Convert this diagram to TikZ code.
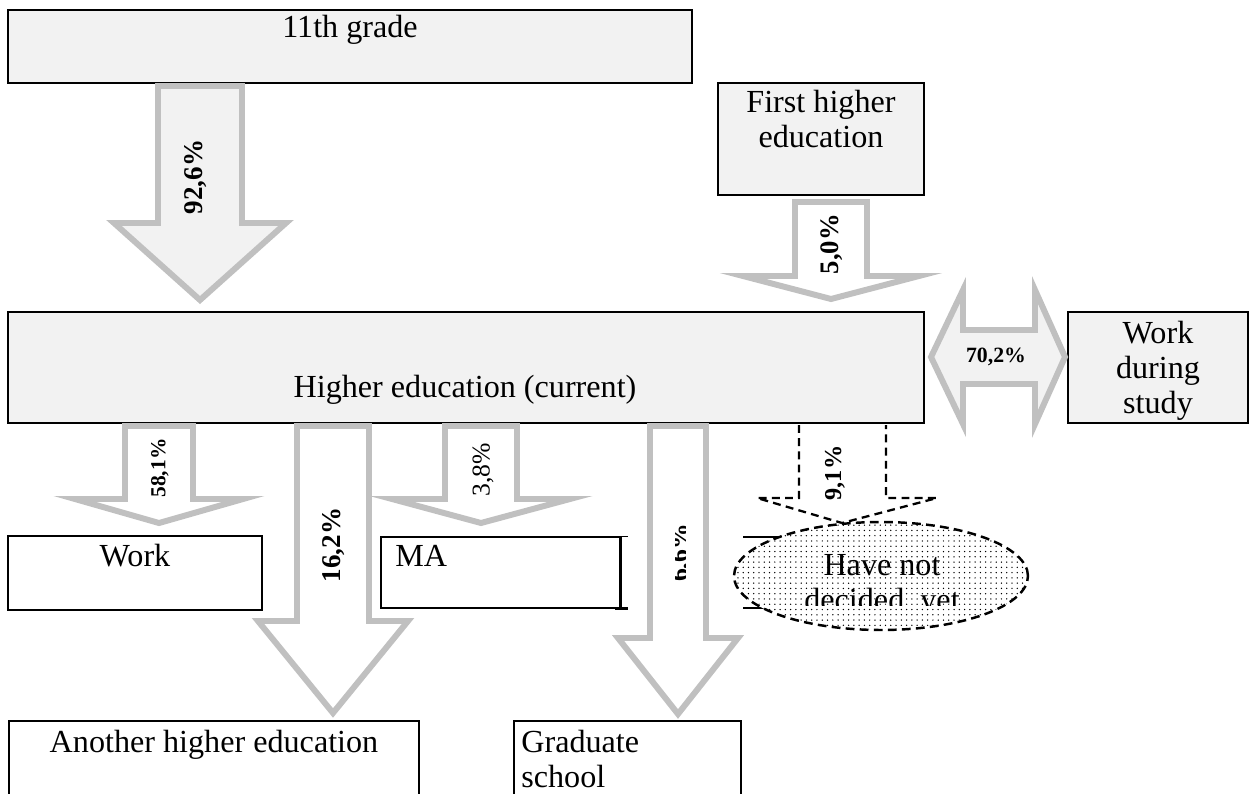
\documentclass[tikz,border=0pt]{standalone}
\usepackage{fontspec}
\setmainfont{Liberation Serif}
\usetikzlibrary{positioning, fit, patterns, shapes.geometric}
\definecolor{boxgray}{HTML}{F2F2F2}
\definecolor{arrowgray}{HTML}{C0C0C0}
\pgfdeclarepatternformonly{finedots}{\pgfqpoint{-1pt}{-1pt}}{\pgfqpoint{1pt}{1pt}}{\pgfqpoint{3pt}{3pt}}{%
  \pgfpathcircle{\pgfqpoint{0pt}{0pt}}{.42pt}\pgfusepath{fill}}

\begin{document}
\begin{tikzpicture}[x=0.02cm, y=-0.02cm,
  box/.style={draw, line width=1pt, inner sep=0pt},
  greybox/.style={box, fill=boxgray},
  whitebox/.style={box, fill=white},
  blockarrow/.style={draw=arrowgray, line width=3.4pt, line join=miter},
  txt/.style={font=\fontsize{18.3}{22}\selectfont, inner sep=0pt, anchor=base},
  pct/.style={font=\fontsize{#1}{#1}\selectfont\bfseries, rotate=90, inner sep=0pt}]
\useasboundingbox (0,0) rectangle (1252,794);
\clip (0,0) rectangle (1252,794);
% Boxes
\node[greybox, fit={(8,10) (692,83)}] (grade) {};
\node[greybox, fit={(718,83) (924,195)}] (first) {};
\node[greybox, fit={(8,312) (924,423)}] (current) {};
\node[greybox, fit={(1068,312) (1248,423)}] (wds) {};
\node[whitebox, fit={(8,536) (262,610)}] (work) {};
\node[box, line width=0.8pt, fit={(381,537) (620,608)}] (ma) {};
\node[whitebox, fit={(9,721) (419,800)}] (another) {};
\node[whitebox, fit={(514,721) (741,800)}] (grad) {};
% MA box right edge
\draw[line width=1.6pt] (ma.north east) -- (ma.south east);
\draw[line width=0.8pt] (ma.north east) -- ++(7,0);
\draw[line width=1.6pt] (ma.south east) ++(-6,0) -- ++(13,0);
% Block arrows: centre / top / head base / tip / shaft / head / fill
\foreach \cx/\top/\base/\tip/\sw/\hw/\col in {
    200/86/223/300/42/86/boxgray,
    831/202/276/299/36/88/white,
    159/426/499/523/34/84/white,
    333/426/621/713/36/75/white,
    481/426/499/523/36/89/white,
    678/426/638/714/28/60/white} {
  \draw[blockarrow, fill=\col] (\cx-\sw,\top) -- (\cx+\sw,\top) -- (\cx+\sw,\base)
    -- (\cx+\hw,\base) -- (\cx,\tip) -- (\cx-\hw,\base) -- (\cx-\sw,\base) -- cycle;
}
% Two-way arrow to work during study
\draw[blockarrow, fill=boxgray] (931,357) -- (963,290) -- (963,330) -- (1035,330)
  -- (1035,290) -- (1065,357) -- (1035,424) -- (1035,384) -- (963,384) -- (963,424) -- cycle;
% Dashed arrow and undecided ellipse
\draw[line width=1pt] (743,537) -- (800,537) (743,608) -- (800,608);
\draw[line width=1.3pt, dash pattern=on 4.5pt off 3pt, fill=white]
  (799,425) -- (799,498) -- (757,498) -- (842,523) -- (937,498) -- (886,498) -- (886,425);
\node[ellipse, draw, line width=1.4pt, dash pattern=on 5pt off 3pt, inner sep=0pt,
  minimum width=5.88cm, minimum height=2.16cm, preaction={fill=white}, pattern=finedots]
  (undecided) at (881,576) {};
% Box texts
\node[txt] (gradetxt) at (350,38) {11th grade};
\node[txt] (firsttxt) at (821,113) {First higher};
\node[txt] (firsttxt2) at (821,148) {education};
\node[txt] (currenttxt) at (465,397) {Higher education (current)};
\node[txt] (wdstxt) at (1158,343) {Work};
\node[txt] (wdstxt2) at (1158,378) {during};
\node[txt] (wdstxt3) at (1158,413) {study};
\node[txt] (worktxt) at (135,566) {Work};
\node[txt, anchor=base west] (matxt) at (395,566) {MA};
\node[txt] (anothertxt) at (214,752) {Another higher education};
\node[txt, anchor=base west] (gradtxt) at (521,752) {Graduate};
\node[txt, anchor=base west] (gradtxt2) at (521,787) {school};
\node[txt] (undtxt) at (882,575) {Have not};
\begin{scope}
  \clip (700,500) rectangle (1060,605);
  \node[txt] (undtxt2) at (882,610) {decided\ \ yet};
\end{scope}
% Percentages
\node[pct=15.4] (p926) at (196,177) {92,6\%};
\node[pct=15.2] (p50) at (832,244) {5,0\%};
\node[pct=12.2] (p581) at (160,468) {58,1\%};
\node[pct=15.4] (p162) at (334,545) {16,2\%};
\node[pct=14, font=\fontsize{14.6}{14.6}\selectfont] (p38) at (483,470) {3,8\%};
\node[pct=13.8] (p91) at (835,473) {9,1\%};
\node[font=\fontsize{12.4}{12.4}\selectfont\bfseries, inner sep=0pt] (p702) at (996,357) {70,2\%};
\begin{scope}
  \clip (675,500) rectangle (685,600);
  \node[pct=14.6] (p66) at (681,553) {6,6\%};
\end{scope}
\end{tikzpicture}
\end{document}
